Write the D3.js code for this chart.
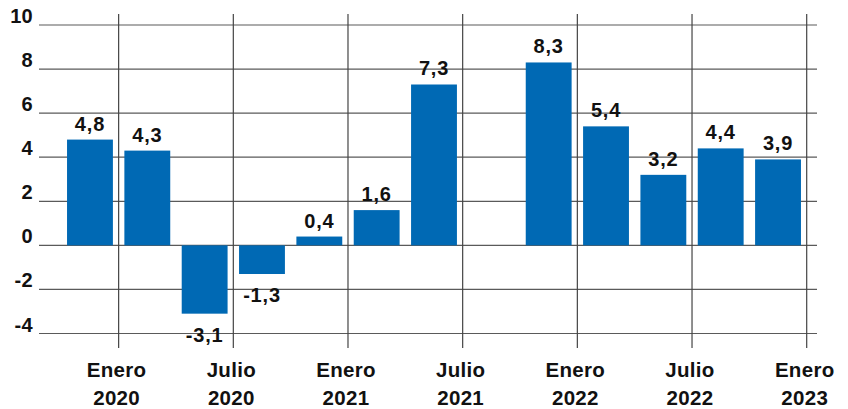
<!DOCTYPE html>
<html>
<head>
<meta charset="utf-8">
<script src="https://cdn.jsdelivr.net/npm/d3@7"></script>
<style>
  html, body { margin: 0; padding: 0; background: #fff; }
  svg { display: block; }
  text { font-family: "Liberation Sans", Arial, Helvetica, sans-serif; font-weight: bold; fill: #111; }
</style>
</head>
<body>
<svg id="chart" width="848" height="409"></svg>
<script>
// Quarterly categories (one bar per quarter)
const categories = ["IV-2019","I-2020","II-2020","III-2020","IV-2020","I-2021","II-2021","III-2021","IV-2021","I-2022","II-2022","III-2022","IV-2022"];
const values = [4.8, 4.3, -3.1, -1.3, 0.4, 1.6, 7.3, null, 8.3, 5.4, 3.2, 4.4, 3.9];
const yTicks = [10, 8, 6, 4, 2, 0, -2, -4];
const xTickAt = ["I-2020","III-2020","I-2021","III-2021","I-2022","III-2022","I-2023"];
const xTickMonth = ["Enero","Julio","Enero","Julio","Enero","Julio","Enero"];
const xTickYear = ["2020","2020","2021","2021","2022","2022","2023"];

const loc = d3.formatLocale({decimal: ",", thousands: ".", grouping: [3], currency: ["", ""], minus: "-"});
const fmt1 = loc.format(".1f");
const fmt0 = loc.format("d");

const svg = d3.select("#chart");
const y = d3.scaleLinear().domain([-4, 10]).range([333.5, 25]);
const x = d3.scaleBand().domain(categories).range([61.3, 806.7]).paddingInner(0.2).paddingOuter(0.1);

const gridLeft = 39, gridRight = 817;
const tickPos = c => {
  const i = categories.indexOf(c);
  const half = x.step() * x.paddingInner() / 2;
  return i >= 0 ? x(c) - half : x(categories[categories.length - 1]) + x.bandwidth() + half;
};

// horizontal grid
svg.append("g").selectAll("line").data(yTicks).join("line")
  .attr("x1", gridLeft).attr("x2", gridRight)
  .attr("y1", d => y(d)).attr("y2", d => y(d))
  .attr("stroke", "#5a5a5a").attr("stroke-width", 1.2);

// y labels
svg.append("g").selectAll("text").data(yTicks).join("text")
  .attr("x", 33).attr("y", d => y(d) - 2)
  .attr("text-anchor", "end")
  .style("font-size", "20px")
  .style("letter-spacing", "0.3px")
  .text(d => fmt0(d));

// vertical lines
svg.append("g").selectAll("line").data(xTickAt).join("line")
  .attr("x1", d => tickPos(d)).attr("x2", d => tickPos(d))
  .attr("y1", 14).attr("y2", 348)
  .attr("stroke", "#444").attr("stroke-width", 1.2);

// bars
const barData = categories.map((c, i) => ({c, v: values[i]})).filter(d => d.v !== null);
svg.append("g").selectAll("rect").data(barData).join("rect")
  .attr("x", d => x(d.c))
  .attr("width", x.bandwidth())
  .attr("y", d => Math.min(y(d.v), y(0)))
  .attr("height", d => Math.abs(y(d.v) - y(0)))
  .attr("fill", "#0069b4");

// value labels
svg.append("g").selectAll("text").data(barData).join("text")
  .attr("x", d => x(d.c) + x.bandwidth() / 2)
  .attr("y", d => d.v >= 0 ? y(d.v) - 9 : y(d.v) + 28)
  .attr("text-anchor", "middle")
  .style("font-size", "20px")
  .style("letter-spacing", "0.8px")
  .text(d => fmt1(d.v));

// x labels
const xl = svg.append("g").selectAll("text").data(xTickAt).join("text")
  .attr("text-anchor", "middle")
  .style("font-size", "20.5px")
  .style("letter-spacing", "0.3px");
xl.append("tspan").attr("x", d => tickPos(d) - 2).attr("y", 377).text((d, i) => xTickMonth[i]);
xl.append("tspan").attr("x", d => tickPos(d) - 2).attr("y", 405).text((d, i) => xTickYear[i]);
</script>
</body>
</html>
